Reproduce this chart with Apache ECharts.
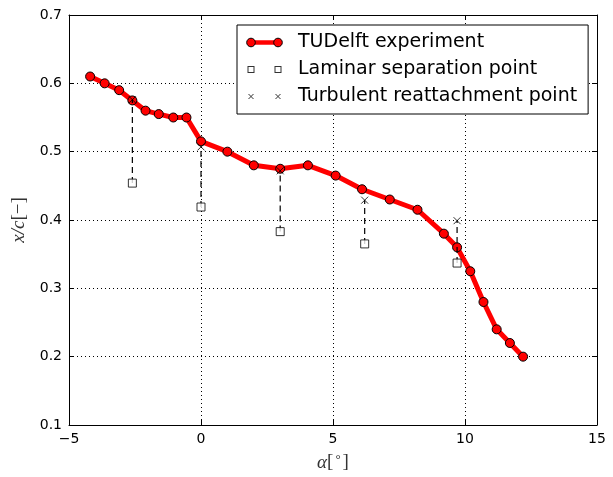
<!DOCTYPE html>
<html>
<head>
<meta charset="utf-8">
<script src="https://cdn.jsdelivr.net/npm/echarts@6/dist/echarts.min.js"></script>
<style>html,body{margin:0;padding:0;background:#fff;}#c{width:613px;height:477px;}</style>
</head>
<body>
<div id="c"></div>
<script>
// Data
var alphaExp = [-4.2, -3.65, -3.1, -2.6, -2.1, -1.6, -1.05, -0.55, 0.0, 1.0, 2.0, 3.0, 4.05, 5.1, 6.1, 7.15, 8.2, 9.2, 9.7, 10.2, 10.7, 11.2, 11.7, 12.2];
var xcExp = [0.61, 0.60, 0.59, 0.575, 0.56, 0.555, 0.55, 0.55, 0.515, 0.50, 0.48, 0.475, 0.48, 0.465, 0.445, 0.43, 0.415, 0.38, 0.36, 0.325, 0.28, 0.24, 0.22, 0.20];
var alphaPts = [-2.6, 0.0, 3.0, 6.2, 9.7];
var xcLaminarSep = [0.454, 0.419, 0.383, 0.365, 0.337];
var xcTurbReatt = [0.576, 0.507, 0.472, 0.429, 0.399];
var xTicks = [-5, 0, 5, 10, 15];
var yTicks = [0.1, 0.2, 0.3, 0.4, 0.5, 0.6, 0.7];

var expData = alphaExp.map(function (a, i) { return [a, xcExp[i]]; });
var sepData = alphaPts.map(function (a, i) { return [a, xcLaminarSep[i]]; });
var reaData = alphaPts.map(function (a, i) { return [a, xcTurbReatt[i]]; });
var connData = alphaPts.map(function (a, i) { return [a, xcLaminarSep[i], xcTurbReatt[i]]; });

function svgIcon(inner) {
  var svg = '<svg xmlns="http://www.w3.org/2000/svg" width="37" height="12" viewBox="0 0 37 12">' + inner + '</svg>';
  return 'image://data:image/svg+xml;charset=utf-8,' + encodeURIComponent(svg);
}
var iconLine = svgIcon('<line x1="5" y1="6" x2="32" y2="6" stroke="#ff0000" stroke-width="4.5"/>' +
  '<circle cx="5" cy="6" r="4.3" fill="#ff0000" stroke="#000" stroke-width="1"/>' +
  '<circle cx="32" cy="6" r="4.3" fill="#ff0000" stroke="#000" stroke-width="1"/>');
var iconSq = svgIcon('<rect x="2" y="3" width="6" height="6" fill="#fff" stroke="#000" stroke-width="1"/>' +
  '<rect x="29" y="3" width="6" height="6" fill="#fff" stroke="#000" stroke-width="1"/>');
var iconX = svgIcon('<path d="M2.5,3.5L7.5,8.5M7.5,3.5L2.5,8.5M29.5,3.5L34.5,8.5M34.5,3.5L29.5,8.5" stroke="#000" stroke-width="1" fill="none"/>');

var tickFont = { fontFamily: 'DejaVu Sans', fontSize: 14, color: '#000' };
var chart = echarts.init(document.getElementById('c'), null, { renderer: 'canvas' });
var xMin = xTicks[0], xMax = xTicks[xTicks.length - 1];
var yMin = yTicks[0], yMax = yTicks[yTicks.length - 1];
var nameFont = { fontFamily: 'Liberation Serif', fontSize: 19, color: '#333' };

chart.setOption({
  animation: false,
  backgroundColor: '#fff',
  grid: { left: 69, right: 16, top: 15, bottom: 52, show: false },
  legend: {
    orient: 'vertical',
    left: 237, top: 25,
    padding: [8, 11, 8, 9],
    itemGap: 8,
    itemWidth: 37, itemHeight: 12,
    backgroundColor: '#fff',
    borderColor: '#000', borderWidth: 1, borderRadius: 0,
    textStyle: { fontFamily: 'DejaVu Sans', fontSize: 19, color: '#000', lineHeight: 19, padding: [0, 0, 0, 10] },
    data: [
      { name: 'TUDelft experiment', icon: iconLine },
      { name: 'Laminar separation point', icon: iconSq },
      { name: 'Turbulent reattachment point', icon: iconX }
    ]
  },
  xAxis: [{
    type: 'value', min: xMin, max: xMax, interval: 5,
    name: '{i|α}[{s|°}]', nameLocation: 'middle', nameGap: 28,
    nameTextStyle: Object.assign({}, nameFont, { rich: { i: Object.assign({}, nameFont, { fontStyle: 'italic' }), s: Object.assign({}, nameFont, { fontSize: 13, verticalAlign: 'top', padding: [0, 2, 6, 2] }) } }),
    axisLine: { show: true, onZero: false, lineStyle: { color: '#000', width: 1 } },
    axisTick: { show: true, inside: true, length: 5, lineStyle: { color: '#000' } },
    axisLabel: { show: true, margin: 7, formatter: function (v) { return String(v).replace('-', '\u2212'); }, ...tickFont },
    splitLine: { show: true, lineStyle: { color: '#000', type: [1, 3], width: 1 } }
  }, {
    type: 'value', min: xMin, max: xMax, interval: 5, position: 'top',
    axisLine: { show: true, onZero: false, lineStyle: { color: '#000', width: 1 } },
    axisTick: { show: true, inside: true, length: 5, lineStyle: { color: '#000' } },
    axisLabel: { show: false }, splitLine: { show: false }
  }],
  yAxis: [{
    type: 'value', min: yMin, max: yMax, interval: 0.1,
    name: '{i|x/c}[−]', nameLocation: 'middle', nameGap: 33, nameRotate: 90,
    nameTextStyle: Object.assign({}, nameFont, { rich: { i: Object.assign({}, nameFont, { fontStyle: 'italic' }) } }),
    axisLine: { show: true, onZero: false, lineStyle: { color: '#000', width: 1 } },
    axisTick: { show: true, inside: true, length: 5, lineStyle: { color: '#000' } },
    axisLabel: { show: true, margin: 7, formatter: function (v) { return v.toFixed(1); }, ...tickFont },
    splitLine: { show: true, lineStyle: { color: '#000', type: [1, 3], width: 1 } }
  }, {
    type: 'value', min: yMin, max: yMax, interval: 0.1, position: 'right',
    axisLine: { show: true, onZero: false, lineStyle: { color: '#000', width: 1 } },
    axisTick: { show: true, inside: true, length: 5, lineStyle: { color: '#000' } },
    axisLabel: { show: false }, splitLine: { show: false }
  }],
  series: [
    {
      name: 'TUDelft experiment', type: 'line', data: expData, z: 3,
      symbol: 'circle', symbolSize: 9,
      lineStyle: { color: '#ff0000', width: 5 },
      itemStyle: { color: '#ff0000', borderColor: '#000', borderWidth: 1 }
    },
    {
      name: 'connector', type: 'custom', data: connData, z: 4,
      renderItem: function (params, api) {
        var p1 = api.coord([api.value(0), api.value(1)]);
        var p2 = api.coord([api.value(0), api.value(2)]);
        return { type: 'line', shape: { x1: p1[0], y1: p1[1], x2: p2[0], y2: p2[1] },
          style: { stroke: '#000', lineWidth: 1.2, lineDash: [6, 4] } };
      },
      silent: true
    },
    {
      name: 'Laminar separation point', type: 'scatter', data: sepData, z: 5,
      symbol: 'rect', symbolSize: 8,
      itemStyle: { color: '#fff', borderColor: '#000', borderWidth: 1 }
    },
    {
      name: 'Turbulent reattachment point', type: 'scatter', data: reaData, z: 6,
      symbol: 'path://M0,0L10,10M10,0L0,10', symbolSize: 7,
      itemStyle: { color: 'none', borderColor: '#000', borderWidth: 1 }
    }
  ]
});
</script>
</body>
</html>
